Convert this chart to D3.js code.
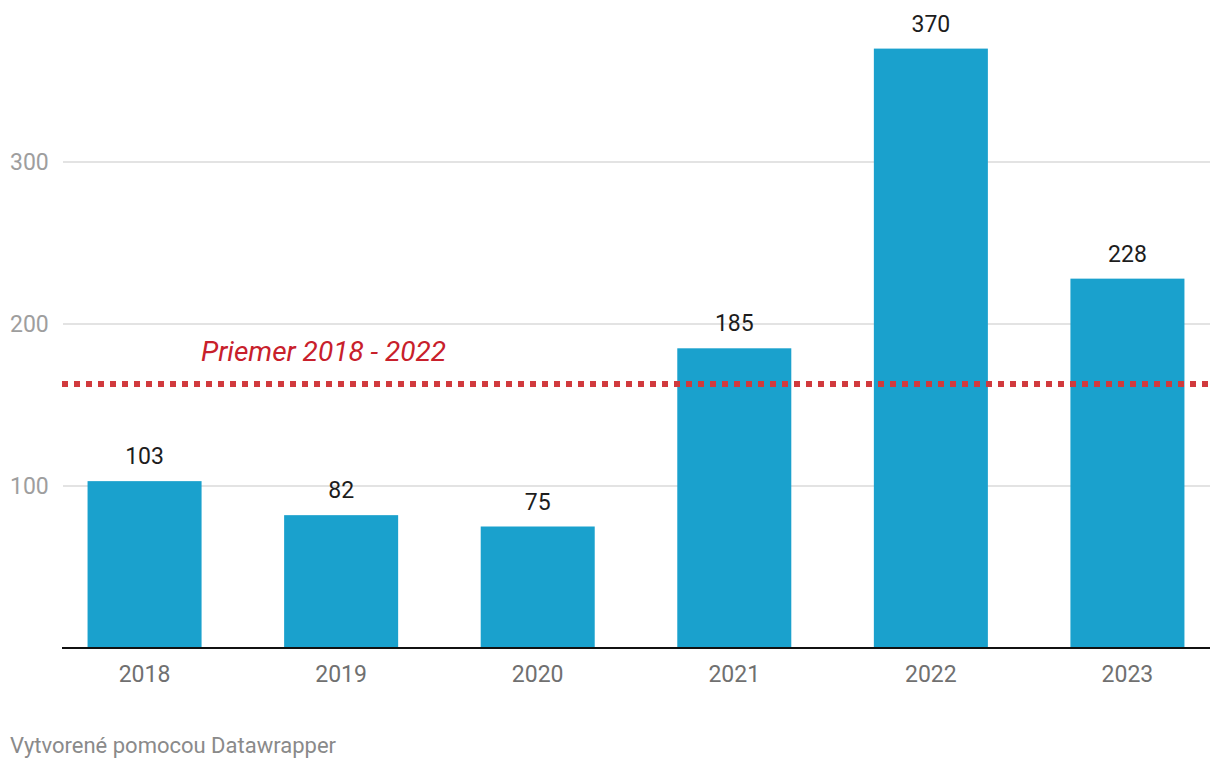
<!DOCTYPE html>
<html>
<head>
<meta charset="utf-8">
<script src="https://cdn.jsdelivr.net/npm/d3@7"></script>
<style>
  html, body { margin: 0; padding: 0; background: #fff; }
  svg { display: block; font-family: Roboto, "Noto Sans", sans-serif; }
</style>
</head>
<body>
<svg id="chart" width="1220" height="770"></svg>
<script>
const years = ["2018", "2019", "2020", "2021", "2022", "2023"];
const values = [103, 82, 75, 185, 370, 228];
const yTicks = [100, 200, 300];
const averageValue = 163;
const averageLabel = "Priemer 2018 - 2022";
const footerText = "Vytvorené pomocou Datawrapper";

const svg = d3.select("#chart");
const left = 62, right = 1210, bottom = 648;

const x = d3.scaleBand().domain(years).range([left, right]).paddingInner(0.42).paddingOuter(0.13);
const y = d3.scaleLinear().domain([0, 400]).range([bottom, 0]);

// gridlines
svg.append("g").selectAll("line").data(yTicks).join("line")
  .attr("x1", left + 1).attr("x2", right)
  .attr("y1", d => y(d)).attr("y2", d => y(d))
  .attr("stroke", "#e3e3e3").attr("stroke-width", 2);

// y tick labels
svg.append("g").selectAll("text").data(yTicks).join("text")
  .attr("x", 10).attr("y", d => y(d) + 8)
  .attr("font-size", 23).attr("fill", "#9e9e9e")
  .text(d => d);

// bars
svg.append("g").selectAll("rect").data(values).join("rect")
  .attr("x", (d, i) => x(years[i]))
  .attr("width", x.bandwidth())
  .attr("y", d => y(d))
  .attr("height", d => y(0) - y(d))
  .attr("fill", "#1aa1cd");

// value labels
svg.append("g").selectAll("text").data(values).join("text")
  .attr("x", (d, i) => x(years[i]) + x.bandwidth() / 2)
  .attr("y", d => y(d) - 17)
  .attr("text-anchor", "middle")
  .attr("font-size", 23).attr("fill", "#1d1d1d")
  .text(d => d);

// x axis baseline
svg.append("line")
  .attr("x1", left).attr("x2", right)
  .attr("y1", y(0)).attr("y2", y(0))
  .attr("stroke", "#111").attr("stroke-width", 2);

// x labels
svg.append("g").selectAll("text").data(years).join("text")
  .attr("x", d => x(d) + x.bandwidth() / 2)
  .attr("y", 682)
  .attr("text-anchor", "middle")
  .attr("font-size", 23).attr("fill", "#707070")
  .text(d => d);

// average line
svg.append("line")
  .attr("x1", left).attr("x2", right)
  .attr("y1", y(averageValue)).attr("y2", y(averageValue))
  .attr("stroke", "#d13a3d").attr("stroke-width", 6)
  .attr("stroke-dasharray", "6,6");

svg.append("text")
  .attr("x", 201).attr("y", 361)
  .attr("font-size", 28).attr("font-style", "italic")
  .attr("fill", "#c8202b")
  .text(averageLabel);

// footer
svg.append("text")
  .attr("x", 10).attr("y", 753)
  .attr("font-size", 22).attr("fill", "#8a8a8a")
  .text(footerText);
</script>
</body>
</html>
